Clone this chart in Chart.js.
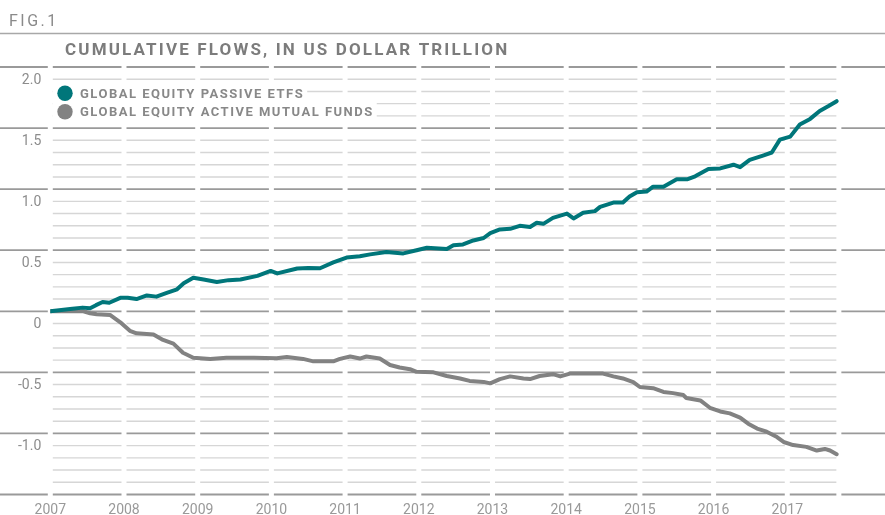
<!DOCTYPE html>
<html>
<head>
<meta charset="utf-8">
<script src="https://cdn.jsdelivr.net/npm/chart.js@4.4.0/dist/chart.umd.min.js"></script>
<style>
    html, body { margin: 0; padding: 0; background: #fff; }
    #wrap { width: 885px; height: 515px; position: relative; }
</style>
</head>
<body>
<div id="wrap"><canvas id="flowsChart"></canvas></div>
<script>
// Axis setup
const years = [2007, 2008, 2009, 2010, 2011, 2012, 2013, 2014, 2015, 2016, 2017];
const yTicks = [-1.0, -0.5, 0, 0.5, 1.0, 1.5, 2.0];
const yTickLabels = ['-1.0', '-0.5', '0', '0.5', '1.0', '1.5', '2.0'];
const yMin = -1.5;
const yMax = 2.0;
const seriesEnd = 2017.70;

const seriesNames = ['GLOBAL EQUITY PASSIVE ETFS', 'GLOBAL EQUITY ACTIVE MUTUAL FUNDS'];

// Global equity passive ETFs, cumulative flows (US$ tn)
const passiveDates = [
    2007.00, 2007.15, 2007.30, 2007.44, 2007.54, 2007.62, 2007.71, 2007.80, 2007.95, 2008.05,
    2008.17, 2008.31, 2008.44, 2008.58, 2008.72, 2008.81, 2008.94, 2009.08, 2009.26, 2009.42,
    2009.58, 2009.81, 2009.99, 2010.08, 2010.35, 2010.50, 2010.66, 2010.84, 2011.02, 2011.20,
    2011.34, 2011.56, 2011.79, 2011.97, 2012.11, 2012.38, 2012.47, 2012.60, 2012.74, 2012.88,
    2012.97, 2013.10, 2013.24, 2013.37, 2013.51, 2013.60, 2013.69, 2013.82, 2014.01, 2014.10,
    2014.23, 2014.39, 2014.46, 2014.64, 2014.77, 2014.86, 2014.96, 2015.09, 2015.18, 2015.32,
    2015.50, 2015.64, 2015.75, 2015.93, 2016.09, 2016.27, 2016.36, 2016.49, 2016.67, 2016.79,
    2016.90, 2017.04, 2017.17, 2017.31, 2017.44, 2017.56, 2017.67
];
const passiveValues = [
    0.00, 0.01, 0.02, 0.03, 0.025, 0.05, 0.076, 0.07, 0.11, 0.11,
    0.10, 0.13, 0.12, 0.15, 0.18, 0.23, 0.275, 0.26, 0.24, 0.255,
    0.26, 0.29, 0.33, 0.31, 0.35, 0.355, 0.352, 0.40, 0.44, 0.45,
    0.466, 0.485, 0.474, 0.50, 0.52, 0.51, 0.54, 0.547, 0.58, 0.60,
    0.64, 0.67, 0.675, 0.70, 0.69, 0.725, 0.716, 0.765, 0.80, 0.76,
    0.806, 0.82, 0.855, 0.89, 0.89, 0.94, 0.975, 0.98, 1.02, 1.02,
    1.08, 1.08, 1.105, 1.165, 1.17, 1.20, 1.18, 1.24, 1.275, 1.30,
    1.405, 1.43, 1.53, 1.575, 1.64, 1.68, 1.72
];

// Global equity active mutual funds, cumulative flows (US$ tn)
const activeDates = [
    2007.00, 2007.45, 2007.54, 2007.63, 2007.81, 2007.95, 2008.08, 2008.17, 2008.40, 2008.53,
    2008.67, 2008.80, 2008.94, 2009.17, 2009.39, 2009.76, 2010.07, 2010.21, 2010.43, 2010.57,
    2010.84, 2010.93, 2011.07, 2011.20, 2011.29, 2011.47, 2011.61, 2011.74, 2011.88, 2011.97,
    2012.20, 2012.38, 2012.56, 2012.69, 2012.88, 2012.97, 2013.10, 2013.24, 2013.42, 2013.51,
    2013.64, 2013.82, 2013.92, 2014.05, 2014.37, 2014.50, 2014.64, 2014.77, 2014.91, 2015.00,
    2015.18, 2015.32, 2015.45, 2015.59, 2015.63, 2015.82, 2015.95, 2016.09, 2016.22, 2016.36,
    2016.47, 2016.59, 2016.72, 2016.86, 2016.95, 2017.08, 2017.26, 2017.40, 2017.51, 2017.58,
    2017.67
];
const activeValues = [
    0.00, 0.00, -0.016, -0.025, -0.03, -0.09, -0.16, -0.18, -0.19, -0.235,
    -0.265, -0.34, -0.38, -0.39, -0.38, -0.38, -0.385, -0.375, -0.39, -0.41,
    -0.41, -0.39, -0.37, -0.387, -0.37, -0.387, -0.44, -0.46, -0.474, -0.496,
    -0.50, -0.53, -0.55, -0.57, -0.578, -0.59, -0.555, -0.533, -0.55, -0.555,
    -0.53, -0.515, -0.533, -0.51, -0.51, -0.51, -0.533, -0.55, -0.58, -0.62,
    -0.63, -0.66, -0.67, -0.686, -0.71, -0.73, -0.79, -0.82, -0.836, -0.87,
    -0.92, -0.96, -0.986, -1.03, -1.07, -1.095, -1.11, -1.14, -1.127, -1.14,
    -1.17
];

const TEAL = '#00767a';
const GREY = '#828282';
const FONT = 'Roboto, "Liberation Sans", sans-serif';

function toPoints(dates, values) {
    return dates.map((d, i) => ({ x: d, y: values[i] }));
}

// Segmented grid (broken at each year), top rule, headings and legend
const decorPlugin = {
    id: 'decor',
    beforeDatasetsDraw(chart) {
        const { ctx, scales: { x, y } } = chart;
        const gap = 2.5;
        const xs = years.map(v => x.getPixelForValue(v));
        const xEnd = x.getPixelForValue(seriesEnd);
        const segs = xs.map((px, i) => [px + gap, (i < xs.length - 1 ? xs[i + 1] : xEnd) - gap]);

        ctx.save();
        // top rule
        ctx.strokeStyle = '#a8a8a8';
        ctx.lineWidth = 1.5;
        ctx.beginPath();
        ctx.moveTo(0, 33.5);
        ctx.lineTo(chart.width, 33.5);
        ctx.stroke();

        const steps = Math.round((yMax - yMin) / 0.1);
        for (let i = 0; i <= steps; i++) {
            const v = yMin + i * 0.1;
            const major = i % 5 === 0;
            const py = y.getPixelForValue(v);
            let lines = segs.slice();
            if (major) {
                lines = [[0, xs[0] - gap]].concat(lines, [[xEnd + gap, chart.width]]);
            }
            ctx.strokeStyle = major ? '#9a9a9a' : '#d6d6d6';
            ctx.lineWidth = major ? 1.8 : 1.4;
            ctx.beginPath();
            lines.forEach(s => { ctx.moveTo(s[0], py); ctx.lineTo(s[1], py); });
            ctx.stroke();
        }

        // FIG label and title
        ctx.textBaseline = 'alphabetic';
        ctx.textAlign = 'left';
        ctx.fillStyle = '#8a8a8a';
        ctx.font = '400 16px ' + FONT;
        ctx.letterSpacing = '2.5px';
        ctx.fillText('FIG.1', 9, 26);

        ctx.fillStyle = '#7c7c7c';
        ctx.font = '700 17px ' + FONT;
        ctx.letterSpacing = '2.15px';
        ctx.fillText('CUMULATIVE FLOWS, IN US DOLLAR TRILLION', 65, 55);

        // legend
        ctx.font = '700 13px ' + FONT;
        ctx.letterSpacing = '1.5px';
        const colors = chart.data.datasets.map(ds => ds.borderColor);
        const rows = [93.3, 111.8];
        seriesNames.forEach((name, i) => {
            const cy = rows[i];
            const w = ctx.measureText(name).width;
            ctx.fillStyle = '#fff';
            ctx.fillRect(53, cy - 10, 80 + w - 53 + 3, 20);
            ctx.fillStyle = colors[i];
            ctx.beginPath();
            ctx.arc(65, cy, 7.7, 0, Math.PI * 2);
            ctx.fill();
            ctx.fillStyle = '#888';
            ctx.fillText(name, 80, cy + 4.6);
        });
        ctx.restore();
    }
};

new Chart(document.getElementById('flowsChart'), {
    type: 'line',
    data: {
        datasets: [
            { label: seriesNames[0], data: toPoints(passiveDates, passiveValues), borderColor: TEAL },
            { label: seriesNames[1], data: toPoints(activeDates, activeValues), borderColor: GREY }
        ]
    },
    options: {
        responsive: true,
        maintainAspectRatio: false,
        animation: false,
        layout: { padding: { top: 67, right: 0, bottom: 0, left: 0 } },
        elements: {
            line: { borderWidth: 4, tension: 0, borderCapStyle: 'round', borderJoinStyle: 'round' },
            point: { radius: 0, hoverRadius: 0 }
        },
        plugins: {
            legend: { display: false },
            tooltip: { enabled: false }
        },
        scales: {
            x: {
                type: 'linear',
                min: 2007,
                max: 2018.326,
                grid: { display: false, drawTicks: false },
                border: { display: false },
                afterFit: scale => { scale.height = 20.5; },
                afterBuildTicks: scale => { scale.ticks = years.map(v => ({ value: v })); },
                ticks: {
                    autoSkip: false,
                    maxRotation: 0,
                    padding: 8,
                    color: '#999',
                    font: { family: FONT, size: 14 },
                    callback: v => String(v)
                }
            },
            y: {
                min: yMin,
                max: yMax,
                grid: { display: false, drawTicks: false },
                border: { display: false },
                afterFit: scale => { scale.width = 50.3; },
                afterBuildTicks: scale => { scale.ticks = yTicks.map(v => ({ value: v })); },
                ticks: {
                    autoSkip: false,
                    padding: 9,
                    labelOffset: 13,
                    color: '#8c8c8c',
                    font: { family: FONT, size: 14 },
                    callback: v => yTickLabels[yTicks.indexOf(v)]
                }
            }
        }
    },
    plugins: [decorPlugin]
});
</script>
</body>
</html>
